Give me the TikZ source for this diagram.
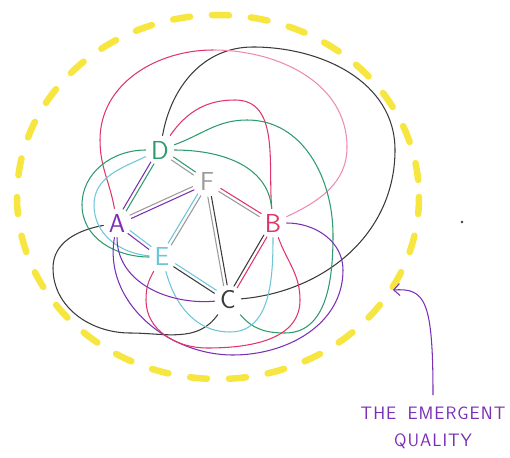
\documentclass[tikz,border=0pt]{standalone}
\usetikzlibrary{calc,arrows.meta}
\definecolor{cgreen}{HTML}{2E9B6E}
\definecolor{cpurple}{HTML}{7A2FB5}
\definecolor{cred}{HTML}{E0356A}
\definecolor{cpink}{HTML}{EE8AB5}
\definecolor{ccyan}{HTML}{6CC6D8}
\definecolor{cblack}{HTML}{3A3A3A}
\definecolor{cgray}{HTML}{9A9A9A}
\definecolor{cyellow}{HTML}{F6E63F}
\newcommand\duo[4]{%
 \draw[#3, shorten <=15pt, shorten >=15pt] ($(#1)!1.8pt!90:(#2)$) -- ($(#2)!1.8pt!-90:(#1)$);
 \draw[#4, shorten <=15pt, shorten >=15pt] ($(#1)!1.8pt!-90:(#2)$) -- ($(#2)!1.8pt!90:(#1)$);}
\begin{document}
\begin{tikzpicture}[x=1pt,y=-1pt,
  letter/.style={font=\sffamily\fontsize{26}{26}\selectfont, inner sep=5pt},
  every path/.append style={line width=1.05pt, line cap=round}]
\useasboundingbox (0,0) rectangle (510,457);
\fill[white] (0,0) rectangle (510,457);
% yellow boundary
\draw[cyellow, line width=6.5pt, line cap=round, dash pattern=on 17pt off 22pt]
  (218,197) ellipse [x radius=201, y radius=182];
% nodes
\node[letter, text=cgreen] (D) at (160,150) {D};
\node[letter, text=cgray] (F) at (207,182) {F};
\node[letter, text=cpurple] (A) at (117,223) {A};
\node[letter, text=cred] (B) at (273,223) {B};
\node[letter, text=ccyan] (E) at (162,257) {E};
\node[letter, text=cblack] (C) at (228,300) {C};
% double edges
\duo{D}{A}{cgreen}{cpurple}
\duo{D}{F}{cgreen}{cgray}
\duo{A}{F}{cgray}{cpurple}
\duo{A}{E}{ccyan}{cpurple}
\duo{F}{E}{cgray}{ccyan}
\duo{F}{C}{cblack}{cgray}
\duo{F}{B}{cred}{cgray}
\duo{B}{C}{cred}{cblack}
\duo{E}{C}{ccyan}{cblack}
% curves
\draw[cblack] (D) to[out=80,in=180] (253,47) to[out=0,in=90] (395,150) to[out=-90,in=5] (C);
\draw[cblack] (A) to[out=190,in=90] (53,268) to[out=-90,in=180] (130,333) to[out=0,in=235] (C);
\draw[cred] (A) to[out=100,in=-90] (100,140) to[out=90,in=180] (213,50);
\draw[cpink] (213,50) to[out=0,in=90] (347,147) to[out=-90,in=25] (B);
\draw[cred] (D) to[out=55,in=180] (235,100) to[out=0,in=95] (B);
\draw[cgreen] (D) to[out=20,in=180] (247,120) to[out=0,in=90] (333,235) to[out=-90,in=0] (285,333) to[out=180,in=-50] (C);
\draw[cgreen] (D) to[out=0,in=95] (B);
\draw[cgreen] (D) to[out=180,in=90] (82,205) to[out=-90,in=180] (E);
\draw[ccyan] (D) to[out=205,in=90] (94,205) to[out=-90,in=175] (E);
\draw[ccyan] (E) to[out=-75,in=180] (230,332) to[out=0,in=-90] (B);
\draw[cpurple] (A) to[out=-90,in=185] (C);
\draw[cpurple] (A) to[out=-100,in=180] (233,355) to[out=0,in=-90] (343,270) to[out=90,in=0] (B);
\draw[cred] (B) to[out=-70,in=90] (300,300) to[out=-90,in=0] (207,348) to[out=180,in=-90] (146,300) to[out=90,in=-120] (E);
% stray dot
\fill[cblack] (462,222) circle (1.3pt);
% label and arrow
\node[text=cpurple, font=\sffamily\fontsize{18}{27}\selectfont, align=center, outer sep=9pt] (lbl) at (433,428) {T\kern1ptH\kern1ptE\ \ E\kern1ptM\kern1ptE\kern1ptR\kern1ptG\kern1ptE\kern1ptN\kern1ptT\\Q\kern1ptU\kern1ptA\kern1ptL\kern1ptI\kern1ptT\kern1ptY};
\coordinate (tip) at (393,290);
\draw[cpurple, -{Straight Barb[length=6pt,width=12pt]}] (lbl.north) .. controls (433,300) and (425,288) .. (tip);
\end{tikzpicture}
\end{document}
